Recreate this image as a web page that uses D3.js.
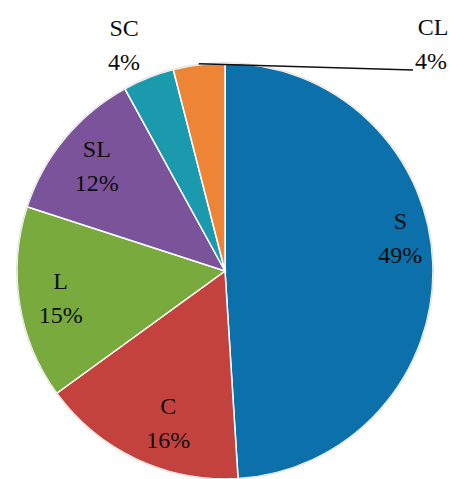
<!DOCTYPE html>
<html>
<head>
<meta charset="utf-8">
<script src="https://cdn.jsdelivr.net/npm/d3@7"></script>
<style>
  body { margin: 0; background: #fff; }
  svg { display: block; }
  text { font-family: "Liberation Serif", "DejaVu Serif", serif; fill: #0d0d0d; }
</style>
</head>
<body>
<div id="chart-area"></div>
<script>
// data
var categories = ["S", "C", "L", "SL", "SC", "CL"];
var shares = [49, 16, 15, 12, 4, 4];
var colors = ["#0c71ab", "#c4423d", "#78aa3e", "#7b539a", "#1b9aad", "#ee8435"];

var width = 450;
var height = 479;
var cx = 225, cy = 271, radius = 208;
var fontSize = "24px";

var svg = d3.select("#chart-area")
	.append("svg")
	.attr("width", width)
	.attr("height", height);

var g = svg.append("g")
	.attr("transform", "translate(" + cx + ", " + cy + ")");

var data = categories.map(function(c, i) { return {name: c, value: shares[i], color: colors[i]}; });

var pie = d3.pie().sort(null).value(function(d) { return d.value; });
var arcs = pie(data);

var arc = d3.arc().innerRadius(0).outerRadius(radius);
var labelArc = d3.arc().innerRadius(radius * 0.8).outerRadius(radius * 0.8);
var outerArc = d3.arc().innerRadius(radius * 1.2).outerRadius(radius * 1.2);

g.selectAll("path.slice").data(arcs)
	.enter()
	.append("path")
	.attr("class", "slice")
	.attr("d", arc)
	.attr("fill", function(d) { return d.data.color; })
	.attr("stroke", "#fff")
	.attr("stroke-width", 1.5);

// faint outline round the pie
g.append("circle")
	.attr("r", radius + 0.5)
	.attr("fill", "none")
	.attr("stroke", "#e2ddd8")
	.attr("stroke-width", 1);

// small manual nudges like Excel's best-fit placement
var nudge = {S: [9, -29], C: [14, 0], SC: [-9, 5]};

function labelPos(d) {
	var name = d.data.name;
	var p = d.data.value <= 5 ? outerArc.centroid(d) : labelArc.centroid(d);
	var n = nudge[name] || [0, 0];
	return [p[0] + n[0], p[1] + n[1]];
}

var labels = g.selectAll("g.label").data(arcs.filter(function(d) { return d.data.name !== "CL"; }))
	.enter()
	.append("g")
	.attr("class", "label")
	.attr("transform", function(d) { var p = labelPos(d); return "translate(" + p[0] + ", " + p[1] + ")"; });

labels.append("text")
	.attr("text-anchor", "middle")
	.attr("y", -8)
	.attr("font-size", fontSize)
	.text(function(d) { return d.data.name; });

labels.append("text")
	.attr("text-anchor", "middle")
	.attr("y", 26)
	.attr("font-size", fontSize)
	.text(function(d) { return d.data.value + "%"; });

// CL label moved out to the right with a leader line
var cl = arcs[arcs.length - 1];
var mid = (cl.startAngle + cl.endAngle) / 2;
var edge = [Math.sin(mid) * (radius + 1), -Math.cos(mid) * (radius + 1)];
var tx = 188, ty = -201;

g.append("line")
	.attr("x1", edge[0]).attr("y1", edge[1])
	.attr("x2", tx).attr("y2", ty)
	.attr("stroke", "#111")
	.attr("stroke-width", 1.5);

g.append("text")
	.attr("x", tx + 20).attr("y", ty - 35)
	.attr("text-anchor", "middle")
	.attr("font-size", fontSize)
	.text(cl.data.name);

g.append("text")
	.attr("x", tx + 2).attr("y", ty - 1)
	.attr("text-anchor", "start")
	.attr("font-size", fontSize)
	.text(cl.data.value + "%");
</script>
</body>
</html>
